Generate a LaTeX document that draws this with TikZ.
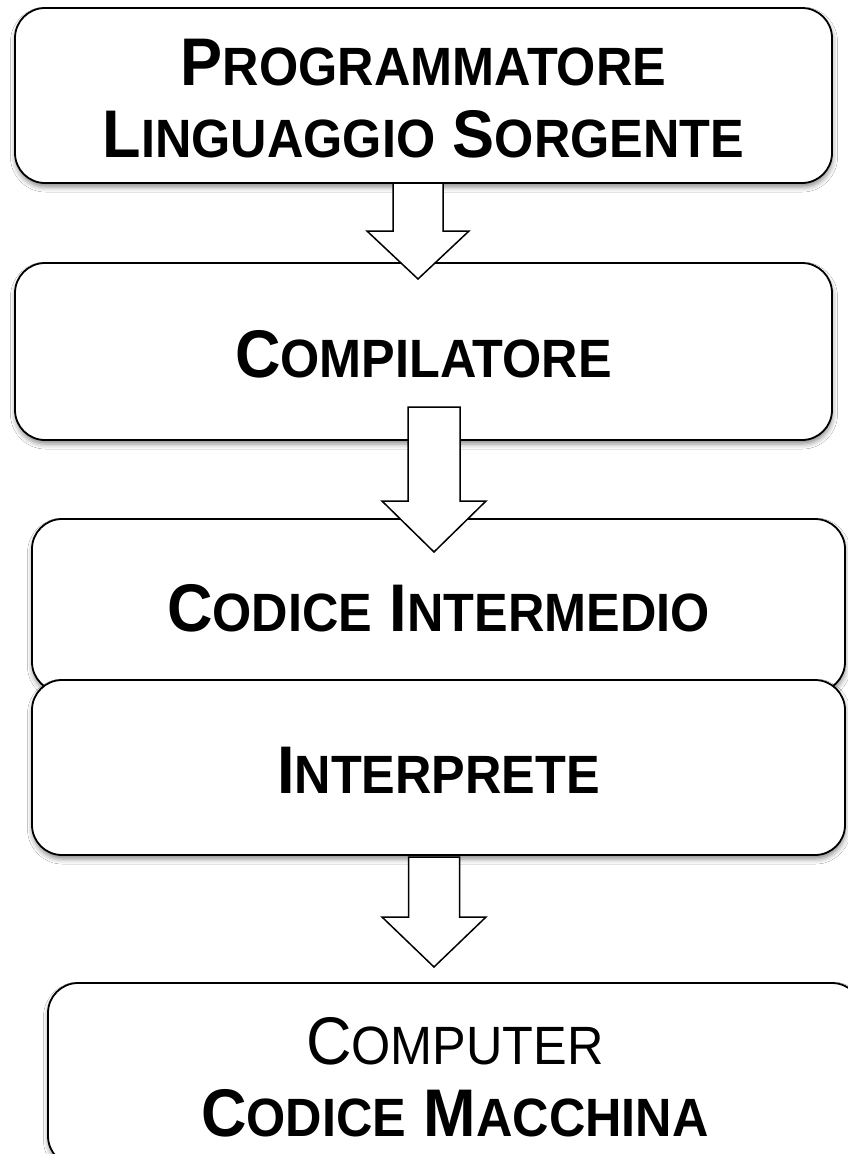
\documentclass[tikz,border=0pt]{standalone}
\usepackage{fontspec}
\setmainfont{Liberation Sans}
\usetikzlibrary{calc,shadows.blur}

% small-capitals look: full-size initial, reduced capitals for the rest
\newcommand\capword[2]{{\fontsize{63pt}{72pt}\selectfont #1}{\fontsize{50.4pt}{72pt}\selectfont #2}}
% one line of box text, slightly tall, sitting a little lower in its box
\newcommand\stageline[1]{\raisebox{-3pt}[\height][\depth]{\scalebox{1}[1.07]{#1}}}

% hollow block arrow: start, tip, half shaft width, half head width, head length
\newcommand\blockarrow[5]{%
  \draw[arrowbody] ($(#1)+(-#3,0)$) -- ($(#2)+(-#3,-#5)$) -- ($(#2)+(-#4,-#5)$)
    -- (#2) -- ($(#2)+(#4,-#5)$) -- ($(#2)+(#3,-#5)$) -- ($(#1)+(#3,0)$) -- cycle;}

\tikzset{
  stagebox/.style={draw=black, line width=1.8pt, fill=white, rounded corners=30pt,
    align=center, inner sep=0pt,
    font=\fontsize{63pt}{72pt}\selectfont\bfseries,
    blur shadow={shadow xshift=0.5pt, shadow yshift=-4pt, shadow blur radius=5pt,
      shadow opacity=45}},
  arrowbody/.style={draw=black, line width=1.5pt, fill=white, line join=miter},
}

\begin{document}
\begin{tikzpicture}[x=1pt, y=-1pt]
\clip (0,0) rectangle (848,1154);
\fill[white] (0,0) rectangle (848,1154);

% source stage
\node[stagebox, minimum width=817pt, minimum height=175pt] (b1) at (423.5,95.5)
  {\stageline{\capword{P}{ROGRAMMATORE}}\\
   \stageline{\capword{L}{INGUAGGIO} \capword{S}{ORGENTE}}};

% compiler
\node[stagebox, minimum width=817pt, minimum height=177pt] (b2) at (423.5,351.5)
  {\stageline{\capword{C}{OMPILATORE}}};

\coordinate (a1s) at (418,183);
\coordinate (a1t) at (418,279);
\blockarrow{a1s}{a1t}{25}{51}{48}

% intermediate code
\node[stagebox, minimum width=813pt, minimum height=173pt] (b3) at (438.5,605.5)
  {\stageline{\capword{C}{ODICE} \capword{I}{NTERMEDIO}}};

\coordinate (a2s) at (434,407);
\coordinate (a2t) at (434,552);
\blockarrow{a2s}{a2t}{26}{52}{51}

% interpreter
\node[stagebox, minimum width=813pt, minimum height=175pt] (b4) at (438.5,767.5)
  {\stageline{\capword{I}{NTERPRETE}}};

\coordinate (a3s) at (434,857);
\coordinate (a3t) at (434,967);
\blockarrow{a3s}{a3t}{25.5}{52}{50}

% target machine
\node[stagebox, minimum width=814pt, minimum height=183pt] (b5) at (455,1074.5)
  {\stageline{\mdseries\capword{C}{OMPUTER}}\\
   \stageline{\capword{C}{ODICE} \capword{M}{ACCHINA}}};
\end{tikzpicture}
\end{document}
